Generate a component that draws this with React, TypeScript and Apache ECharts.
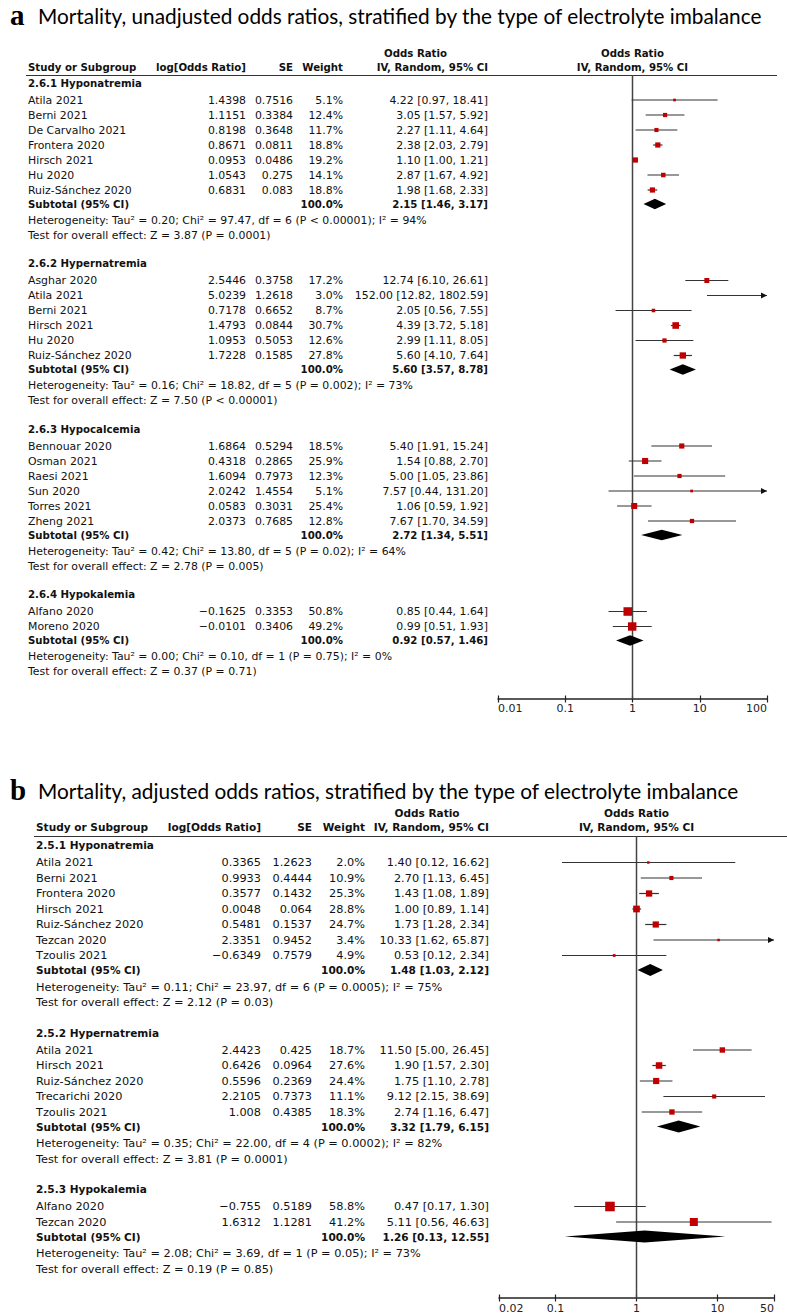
import React, { useEffect, useRef } from "react";
import * as echarts from "echarts";

// ---------------- Panel a : unadjusted ----------------
const A_GROUPS = ["2.6.1 Hyponatremia", "2.6.2 Hypernatremia", "2.6.3 Hypocalcemia", "2.6.4 Hypokalemia"];
const A_STUDIES = [
  ["Atila 2021", "Berni 2021", "De Carvalho 2021", "Frontera 2020", "Hirsch 2021", "Hu 2020", "Ruiz-Sánchez 2020"],
  ["Asghar 2020", "Atila 2021", "Berni 2021", "Hirsch 2021", "Hu 2020", "Ruiz-Sánchez 2020"],
  ["Bennouar 2020", "Osman 2021", "Raesi 2021", "Sun 2020", "Torres 2021", "Zheng 2021"],
  ["Alfano 2020", "Moreno 2020"],
];
const A_LOGOR = [
  [1.4398, 1.1151, 0.8198, 0.8671, 0.0953, 1.0543, 0.6831],
  [2.5446, 5.0239, 0.7178, 1.4793, 1.0953, 1.7228],
  [1.6864, 0.4318, 1.6094, 2.0242, 0.0583, 2.0373],
  [-0.1625, -0.0101],
];
const A_SE = [
  [0.7516, 0.3384, 0.3648, 0.0811, 0.0486, 0.275, 0.083],
  [0.3758, 1.2618, 0.6652, 0.0844, 0.5053, 0.1585],
  [0.5294, 0.2865, 0.7973, 1.4554, 0.3031, 0.7685],
  [0.3353, 0.3406],
];
const A_WEIGHT = [
  [5.1, 12.4, 11.7, 18.8, 19.2, 14.1, 18.8],
  [17.2, 3.0, 8.7, 30.7, 12.6, 27.8],
  [18.5, 25.9, 12.3, 5.1, 25.4, 12.8],
  [50.8, 49.2],
];
const A_OR = [
  [4.22, 3.05, 2.27, 2.38, 1.1, 2.87, 1.98],
  [12.74, 152.0, 2.05, 4.39, 2.99, 5.6],
  [5.4, 1.54, 5.0, 7.57, 1.06, 7.67],
  [0.85, 0.99],
];
const A_LO = [
  [0.97, 1.57, 1.11, 2.03, 1.0, 1.67, 1.68],
  [6.1, 12.82, 0.56, 3.72, 1.11, 4.1],
  [1.91, 0.88, 1.05, 0.44, 0.59, 1.7],
  [0.44, 0.51],
];
const A_HI = [
  [18.41, 5.92, 4.64, 2.79, 1.21, 4.92, 2.33],
  [26.61, 1802.59, 7.55, 5.18, 8.05, 7.64],
  [15.24, 2.7, 23.86, 131.2, 1.92, 34.59],
  [1.64, 1.93],
];
const A_SUB_OR = [2.15, 5.6, 2.72, 0.92];
const A_SUB_LO = [1.46, 3.57, 1.34, 0.57];
const A_SUB_HI = [3.17, 8.78, 5.51, 1.46];
const A_HET = [
  "Heterogeneity: Tau² = 0.20; Chi² = 97.47, df = 6 (P < 0.00001); I² = 94%",
  "Heterogeneity: Tau² = 0.16; Chi² = 18.82, df = 5 (P = 0.002); I² = 73%",
  "Heterogeneity: Tau² = 0.42; Chi² = 13.80, df = 5 (P = 0.02); I² = 64%",
  "Heterogeneity: Tau² = 0.00; Chi² = 0.10, df = 1 (P = 0.75); I² = 0%",
];
const A_TEST = [
  "Test for overall effect: Z = 3.87 (P = 0.0001)",
  "Test for overall effect: Z = 7.50 (P < 0.00001)",
  "Test for overall effect: Z = 2.78 (P = 0.005)",
  "Test for overall effect: Z = 0.37 (P = 0.71)",
];
const A_TICKS = [0.01, 0.1, 1, 10, 100];
const A_TICK_LABELS = ["0.01", "0.1", "1", "10", "100"];

// ---------------- Panel b : adjusted ----------------
const B_GROUPS = ["2.5.1 Hyponatremia", "2.5.2 Hypernatremia", "2.5.3 Hypokalemia"];
const B_STUDIES = [
  ["Atila 2021", "Berni 2021", "Frontera 2020", "Hirsch 2021", "Ruiz-Sánchez 2020", "Tezcan 2020", "Tzoulis 2021"],
  ["Atila 2021", "Hirsch 2021", "Ruiz-Sánchez 2020", "Trecarichi 2020", "Tzoulis 2021"],
  ["Alfano 2020", "Tezcan 2020"],
];
const B_LOGOR = [
  [0.3365, 0.9933, 0.3577, 0.0048, 0.5481, 2.3351, -0.6349],
  [2.4423, 0.6426, 0.5596, 2.2105, 1.008],
  [-0.755, 1.6312],
];
const B_SE = [
  [1.2623, 0.4444, 0.1432, 0.064, 0.1537, 0.9452, 0.7579],
  [0.425, 0.0964, 0.2369, 0.7373, 0.4385],
  [0.5189, 1.1281],
];
const B_WEIGHT = [
  [2.0, 10.9, 25.3, 28.8, 24.7, 3.4, 4.9],
  [18.7, 27.6, 24.4, 11.1, 18.3],
  [58.8, 41.2],
];
const B_OR = [
  [1.4, 2.7, 1.43, 1.0, 1.73, 10.33, 0.53],
  [11.5, 1.9, 1.75, 9.12, 2.74],
  [0.47, 5.11],
];
const B_LO = [
  [0.12, 1.13, 1.08, 0.89, 1.28, 1.62, 0.12],
  [5.0, 1.57, 1.1, 2.15, 1.16],
  [0.17, 0.56],
];
const B_HI = [
  [16.62, 6.45, 1.89, 1.14, 2.34, 65.87, 2.34],
  [26.45, 2.3, 2.78, 38.69, 6.47],
  [1.3, 46.63],
];
const B_SUB_OR = [1.48, 3.32, 1.26];
const B_SUB_LO = [1.03, 1.79, 0.13];
const B_SUB_HI = [2.12, 6.15, 12.55];
const B_HET = [
  "Heterogeneity: Tau² = 0.11; Chi² = 23.97, df = 6 (P = 0.0005); I² = 75%",
  "Heterogeneity: Tau² = 0.35; Chi² = 22.00, df = 4 (P = 0.0002); I² = 82%",
  "Heterogeneity: Tau² = 2.08; Chi² = 3.69, df = 1 (P = 0.05); I² = 73%",
];
const B_TEST = [
  "Test for overall effect: Z = 2.12 (P = 0.03)",
  "Test for overall effect: Z = 3.81 (P = 0.0001)",
  "Test for overall effect: Z = 0.19 (P = 0.85)",
];
const B_TICKS = [0.02, 0.1, 1, 10, 50];
const B_TICK_LABELS = ["0.02", "0.1", "1", "10", "50"];

// ---------------- layout / style config ----------------
const FONT = "DejaVu Sans";
const TXT = "#111";
const PANELS = [
  {
    letter: "a",
    title: "Mortality, unadjusted odds ratios, stratified by the type of electrolyte imbalance",
    titleY: 15,
    groups: A_GROUPS, studies: A_STUDIES, logor: A_LOGOR, se: A_SE, weight: A_WEIGHT,
    or: A_OR, lo: A_LO, hi: A_HI, subOr: A_SUB_OR, subLo: A_SUB_LO, subHi: A_SUB_HI,
    het: A_HET, test: A_TEST, ticks: A_TICKS, tickLabels: A_TICK_LABELS,
    grid: { left: 498, top: 75, width: 269, height: 624 },
    cols: { study: 28, logor: 246, se: 293, weight: 343, or: 488 },
    fs: 10.9, bfs: 10.2, headY: [53, 67], lineY: 75.5, lineX: [26, 777],
    layout: { start: 83, headToFirst: 17, pitch: 15, toSub: 14, subToHet: 16, hetToTest: 15, gap: 28.5 },
    sq: 1.2, dh: 10.5, labelMargin: 4,
  },
  {
    letter: "b",
    title: "Mortality, adjusted odds ratios, stratified by the type of electrolyte imbalance",
    titleY: 790,
    groups: B_GROUPS, studies: B_STUDIES, logor: B_LOGOR, se: B_SE, weight: B_WEIGHT,
    or: B_OR, lo: B_LO, hi: B_HI, subOr: B_SUB_OR, subLo: B_SUB_LO, subHi: B_SUB_HI,
    het: B_HET, test: B_TEST, ticks: B_TICKS, tickLabels: B_TICK_LABELS,
    grid: { left: 499, top: 836, width: 275, height: 462 },
    cols: { study: 36, logor: 261, se: 312, weight: 365, or: 489 },
    fs: 11.3, bfs: 10.55, headY: [813, 827], lineY: 836.5, lineX: [34, 787],
    layout: { start: 845, headToFirst: 17.5, pitch: 15.5, toSub: 14.5, subToHet: 17, hetToTest: 15.5, gap: 30 },
    sq: 1.25, dh: 12, labelMargin: 5,
  },
];

const fmtNum = (v: number) => String(v).replace("-", "−");
const fmtCI = (o: number, l: number, h: number) => `${o.toFixed(2)} [${l.toFixed(2)}, ${h.toFixed(2)}]`;

function rowLayout(counts: number[], L: any) {
  const out: any[] = [];
  let y = L.start;
  counts.forEach((n) => {
    const header = y;
    const studies: number[] = [];
    for (let k = 0; k < n; k++) studies.push(header + L.headToFirst + k * L.pitch);
    const subtotal = studies[n - 1] + L.toSub;
    const het = subtotal + L.subToHet;
    const test = het + L.hetToTest;
    out.push({ header, studies, subtotal, het, test });
    y = test + L.gap;
  });
  return out;
}

function buildOption() {
  const grids: any[] = [];
  const xAxes: any[] = [];
  const yAxes: any[] = [];
  const series: any[] = [];
  const elements: any[] = [];

  const text = (t: string, x: number, y: number, fs: number, align: string, bold = false) => ({
    type: "text",
    x,
    y,
    silent: true,
    style: {
      text: t,
      fill: TXT,
      fontFamily: FONT,
      fontSize: fs,
      fontWeight: bold ? "bold" : "normal",
      align,
      verticalAlign: "middle",
    },
  });

  PANELS.forEach((p, pi) => {
    const rows = rowLayout(p.studies.map((s: string[]) => s.length), p.layout);
    const xMin = p.ticks[0];
    const xMax = p.ticks[p.ticks.length - 1];
    const gTop = p.grid.top;
    const gBot = p.grid.top + p.grid.height;
    const oneX = p.grid.left + (p.grid.width * (Math.log10(1) - Math.log10(xMin))) / (Math.log10(xMax) - Math.log10(xMin));

    grids.push({ ...p.grid, containLabel: false, outerBoundsMode: "none", show: false });
    const labelFmt = (v: number) => {
      const i = p.ticks.findIndex((t: number) => Math.abs(Math.log10(t) - Math.log10(v)) < 1e-6);
      return i >= 0 ? p.tickLabels[i] : "";
    };
    xAxes.push({
      type: "log",
      logBase: 10,
      gridIndex: pi,
      min: xMin,
      max: xMax,
      position: "bottom",
      axisLine: { show: true, onZero: false, lineStyle: { color: "#222", width: 1.5 } },
      axisTick: { show: true, inside: false, length: 3.5, customValues: p.ticks, lineStyle: { color: "#222", width: 1.2 } },
      axisLabel: {
        show: true,
        customValues: p.ticks,
        formatter: labelFmt,
        color: "#222",
        fontFamily: FONT,
        fontSize: 11,
        margin: p.labelMargin,
        alignMinLabel: "left",
        alignMaxLabel: "right",
        hideOverlap: false,
      },
      splitLine: { show: false },
      minorTick: { show: false },
      minorSplitLine: { show: false },
    });
    xAxes.push({
      type: "log",
      logBase: 10,
      gridIndex: pi,
      min: xMin,
      max: xMax,
      position: "bottom",
      axisLine: { show: false, onZero: false },
      axisTick: { show: true, inside: true, length: 3.5, customValues: p.ticks, lineStyle: { color: "#222", width: 1.2 } },
      axisLabel: { show: false },
      splitLine: { show: false },
    });
    yAxes.push({ type: "value", gridIndex: pi, min: gTop, max: gBot, inverse: true, show: false });

    const xi = pi * 2;
    // line of no effect
    series.push({
      type: "line",
      xAxisIndex: xi,
      yAxisIndex: pi,
      data: [[1, gTop], [1, gBot]],
      symbol: "none",
      silent: true,
      lineStyle: { color: "#444", width: 1.5 },
      z: 1,
    });

    const ciData: any[] = [];
    const sqData: any[] = [];
    const dData: any[] = [];
    p.groups.forEach((g: string, gi: number) => {
      const r = rows[gi];
      elements.push(text(g, p.cols.study, r.header, p.bfs, "left", true));
      p.studies[gi].forEach((s: string, si: number) => {
        const y = r.studies[si];
        elements.push(text(s, p.cols.study, y, p.fs, "left"));
        elements.push(text(fmtNum(p.logor[gi][si]), p.cols.logor, y, p.fs, "right"));
        elements.push(text(fmtNum(p.se[gi][si]), p.cols.se, y, p.fs, "right"));
        elements.push(text(p.weight[gi][si].toFixed(1) + "%", p.cols.weight, y, p.fs, "right"));
        elements.push(text(fmtCI(p.or[gi][si], p.lo[gi][si], p.hi[gi][si]), p.cols.or, y, p.fs, "right"));
        ciData.push([p.lo[gi][si], p.hi[gi][si], y]);
        sqData.push([p.or[gi][si], y, p.weight[gi][si]]);
      });
      elements.push(text("Subtotal (95% CI)", p.cols.study, r.subtotal, p.bfs, "left", true));
      elements.push(text("100.0%", p.cols.weight, r.subtotal, p.bfs, "right", true));
      elements.push(text(fmtCI(p.subOr[gi], p.subLo[gi], p.subHi[gi]), p.cols.or, r.subtotal, p.bfs, "right", true));
      elements.push(text(p.het[gi], p.cols.study, r.het, p.fs, "left"));
      elements.push(text(p.test[gi], p.cols.study, r.test, p.fs, "left"));
      dData.push([p.subLo[gi], p.subOr[gi], p.subHi[gi], r.subtotal]);
    });

    series.push({
      type: "custom",
      xAxisIndex: xi,
      yAxisIndex: pi,
      data: ciData,
      encode: { x: [0, 1], y: 2 },
      clip: false,
      silent: true,
      z: 2,
      renderItem: (params: any, api: any) => {
        const lo = api.value(0);
        const hi = api.value(1);
        const y = api.value(2);
        const a = api.coord([Math.max(lo, xMin), y]);
        const b = api.coord([Math.min(hi, xMax), y]);
        const children: any[] = [
          { type: "line", shape: { x1: a[0], y1: a[1], x2: b[0], y2: b[1] }, style: { stroke: "#333", lineWidth: 1.2 } },
        ];
        if (hi > xMax) {
          children.push({
            type: "polygon",
            shape: { points: [[b[0], b[1]], [b[0] - 6, b[1] - 3], [b[0] - 6, b[1] + 3]] },
            style: { fill: "#111" },
          });
        }
        if (lo < xMin) {
          children.push({
            type: "polygon",
            shape: { points: [[a[0], a[1]], [a[0] + 6, a[1] - 3], [a[0] + 6, a[1] + 3]] },
            style: { fill: "#111" },
          });
        }
        return { type: "group", children };
      },
    });

    const sqScale = p.sq;
    series.push({
      type: "scatter",
      xAxisIndex: xi,
      yAxisIndex: pi,
      data: sqData,
      symbol: "rect",
      symbolSize: (v: number[]) => Math.max(2.5, sqScale * Math.sqrt(v[2])),
      itemStyle: { color: "#c00000", opacity: 1 },
      silent: true,
      z: 3,
    });

    const dh = p.dh;
    series.push({
      type: "custom",
      xAxisIndex: xi,
      yAxisIndex: pi,
      data: dData,
      encode: { x: [0, 1, 2], y: 3 },
      clip: false,
      silent: true,
      z: 3,
      renderItem: (params: any, api: any) => {
        const y = api.value(3);
        const l = api.coord([api.value(0), y]);
        const m = api.coord([api.value(1), y]);
        const h = api.coord([api.value(2), y]);
        return {
          type: "polygon",
          shape: { points: [[l[0], l[1]], [m[0], m[1] - dh / 2], [h[0], h[1]], [m[0], m[1] + dh / 2]] },
          style: { fill: "#000" },
        };
      },
    });

    // titles
    elements.push({
      type: "text",
      x: 10,
      y: p.titleY,
      silent: true,
      style: { text: p.letter, fill: "#000", fontFamily: "Liberation Serif", fontWeight: "bold", fontSize: 29, align: "left", verticalAlign: "middle" },
    });
    elements.push({
      type: "text",
      x: 38,
      y: p.titleY,
      silent: true,
      style: { text: p.title, fill: "#000", fontFamily: "Lato", fontSize: 20.8, align: "left", verticalAlign: "middle" },
    });

    // column headers
    elements.push(text("Odds Ratio", (p.cols.weight + p.cols.or) / 2, p.headY[0], p.bfs, "center", true));
    elements.push(text("Odds Ratio", oneX, p.headY[0], p.bfs, "center", true));
    elements.push(text("Study or Subgroup", p.cols.study, p.headY[1], p.bfs, "left", true));
    elements.push(text("log[Odds Ratio]", p.cols.logor, p.headY[1], p.bfs, "right", true));
    elements.push(text("SE", p.cols.se, p.headY[1], p.bfs, "right", true));
    elements.push(text("Weight", p.cols.weight, p.headY[1], p.bfs, "right", true));
    elements.push(text("IV, Random, 95% CI", p.cols.or, p.headY[1], p.bfs, "right", true));
    elements.push(text("IV, Random, 95% CI", oneX, p.headY[1], p.bfs, "center", true));
    elements.push({
      type: "line",
      silent: true,
      shape: { x1: p.lineX[0], y1: p.lineY, x2: p.lineX[1], y2: p.lineY },
      style: { stroke: "#333", lineWidth: 1.2 },
    });
  });

  return {
    animation: false,
    backgroundColor: "#fff",
    grid: grids,
    xAxis: xAxes,
    yAxis: yAxes,
    series,
    graphic: { elements },
  };
}

export default function App() {
  const ref = useRef<HTMLDivElement>(null);
  useEffect(() => {
    if (!ref.current) return;
    const chart = echarts.init(ref.current, undefined, { renderer: "svg" });
    chart.setOption(buildOption() as any);
    return () => chart.dispose();
  }, []);
  return <div ref={ref} style={{ position: "absolute", left: 0, top: 0, width: 787, height: 1316 }} />;
}
